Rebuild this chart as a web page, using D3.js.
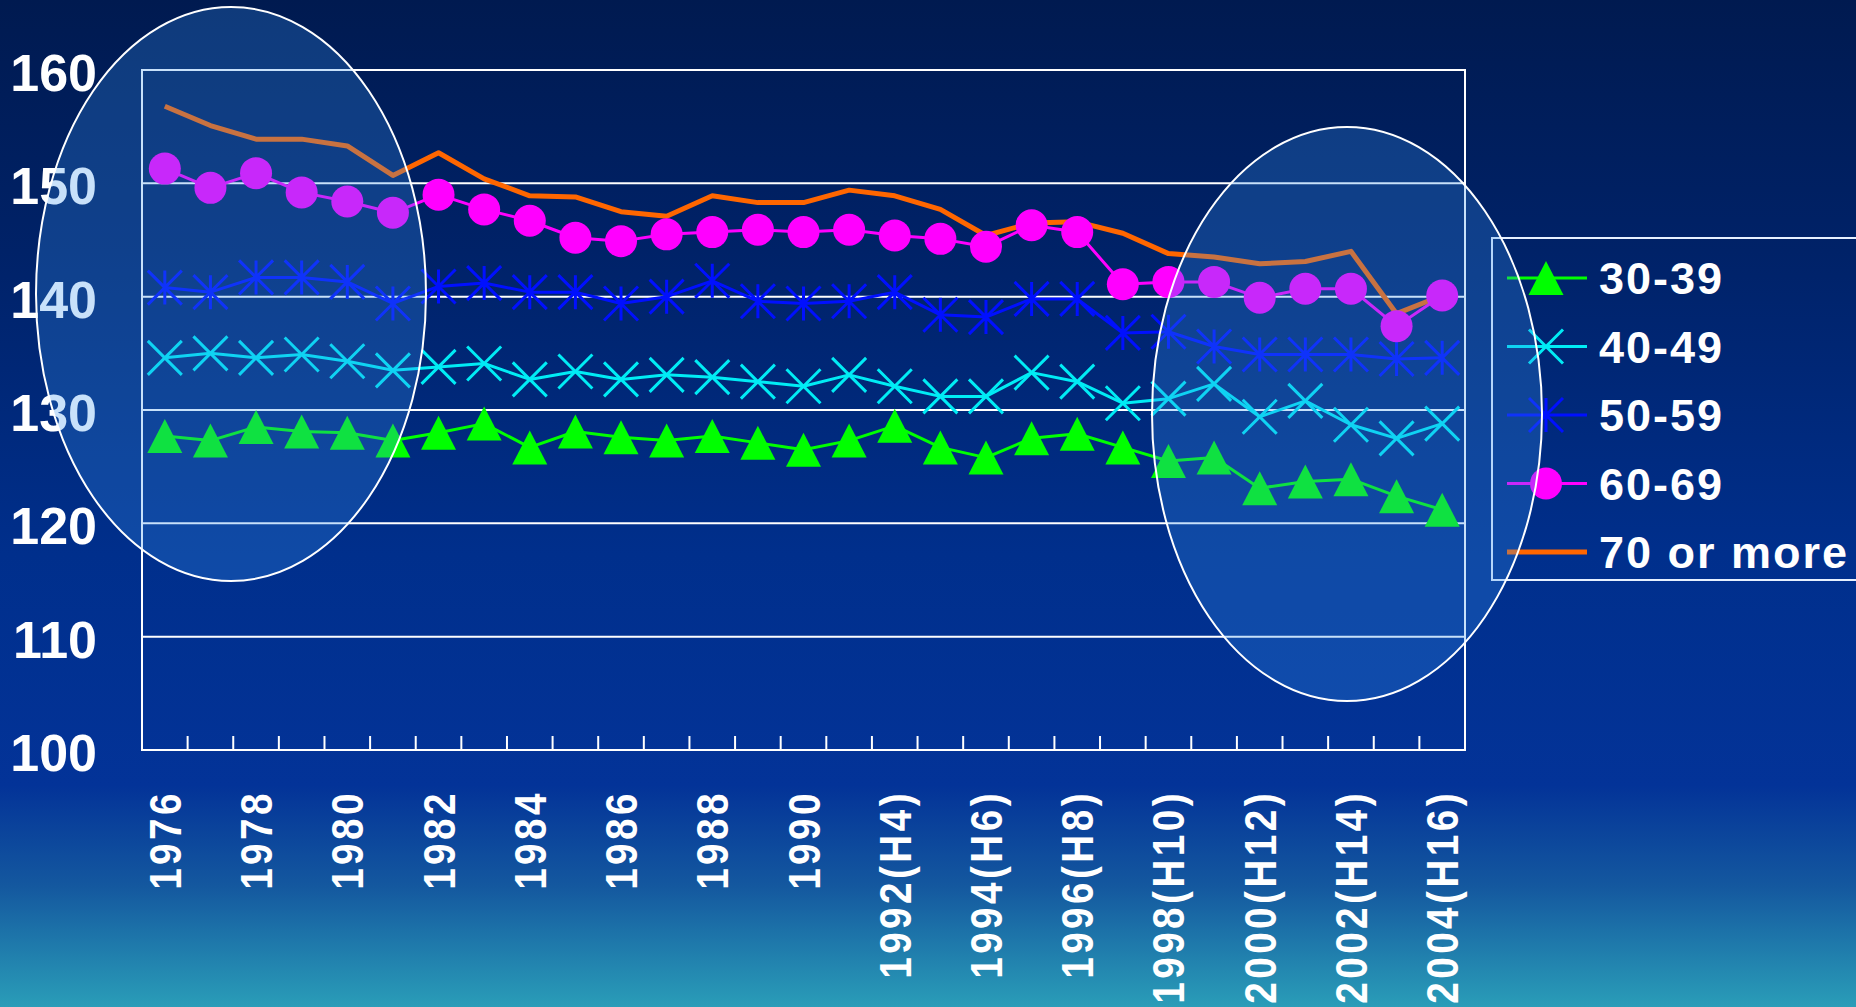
<!DOCTYPE html>
<html>
<head>
<meta charset="utf-8">
<script src="https://cdn.jsdelivr.net/npm/d3@7"></script>
<style>
  html, body { margin: 0; padding: 0; background: #001a50; }
  svg { display: block; }
  text { font-family: "Liberation Sans", Arial, sans-serif; font-weight: bold; fill: #ffffff; }
</style>
</head>
<body>
<svg id="chart" width="1856" height="1007"></svg>
<script>
// Survey years on the horizontal axis
const years = d3.range(1976, 2005);

// Years that carry a label, and the label text (Japanese era in brackets)
const labelYears = [1976, 1978, 1980, 1982, 1984, 1986, 1988, 1990, 1992, 1994, 1996, 1998, 2000, 2002, 2004];
const labelTexts = ["1976", "1978", "1980", "1982", "1984", "1986", "1988", "1990",
  "1992(H4)", "1994(H6)", "1996(H8)", "1998(H10)", "2000(H12)", "2002(H14)", "2004(H16)"];

// Vertical axis ticks
const yTicks = [100, 110, 120, 130, 140, 150, 160];

// Series values, one per year 1976-2004
const age30 = [127.7, 127.3, 128.5, 128.1, 128.0, 127.3, 128.0, 128.8, 126.7, 128.1,
  127.6, 127.3, 127.7, 127.1, 126.5, 127.3, 128.6, 126.7, 125.8, 127.5,
  127.9, 126.7, 125.5, 125.8, 123.1, 123.7, 123.9, 122.4, 121.2];
const age40 = [134.6, 135.0, 134.6, 134.9, 134.3, 133.5, 133.8, 134.1, 132.7, 133.4,
  132.7, 133.1, 132.9, 132.5, 132.1, 133.1, 132.1, 131.2, 131.2, 133.3,
  132.5, 130.6, 131.0, 132.3, 129.4, 130.8, 128.7, 127.5, 128.8];
const age50 = [140.8, 140.4, 141.7, 141.7, 141.3, 139.4, 140.9, 141.2, 140.4, 140.4,
  139.4, 140.0, 141.4, 139.6, 139.4, 139.6, 140.4, 138.4, 138.2, 139.8,
  139.8, 136.8, 136.9, 135.6, 134.9, 134.9, 134.9, 134.5, 134.6];
const age60 = [151.3, 149.6, 150.9, 149.2, 148.4, 147.4, 149.0, 147.7, 146.7, 145.2,
  144.9, 145.5, 145.7, 145.9, 145.7, 145.9, 145.4, 145.1, 144.4, 146.3,
  145.7, 141.1, 141.3, 141.3, 139.9, 140.7, 140.7, 137.4, 140.1];
const age70 = [156.8, 155.1, 153.9, 153.9, 153.3, 150.7, 152.7, 150.4, 148.9, 148.8,
  147.5, 147.1, 148.9, 148.3, 148.3, 149.4, 148.9, 147.7, 145.4, 146.5,
  146.6, 145.6, 143.8, 143.5, 142.9, 143.1, 144.0, 138.5, 140.1];

const seriesNames = ["30-39", "40-49", "50-59", "60-69", "70 or more"];

// Series styling: colour, line width, marker type
const series = [
  { name: seriesNames[4], values: age70, color: "#ff6600", width: 5, marker: "none" },
  { name: seriesNames[0], values: age30, color: "#00ff00", width: 3, marker: "triangle" },
  { name: seriesNames[1], values: age40, color: "#00ecf5", width: 3, marker: "cross" },
  { name: seriesNames[2], values: age50, color: "#0010ff", width: 3, marker: "star" },
  { name: seriesNames[3], values: age60, color: "#ff00ff", width: 3, marker: "circle" }
];
const legendOrder = [1, 2, 3, 4, 0];

const W = 1856, H = 1007;
const plot = { left: 142, right: 1465, top: 70, bottom: 750 };

const svg = d3.select("#chart");
const defs = svg.append("defs");

// Backdrop: deep navy to royal blue, fading into teal at the foot
const bg = defs.append("linearGradient").attr("id", "bg").attr("x1", 0).attr("y1", 0).attr("x2", 0).attr("y2", 1);
[["0", "#001a50"], ["0.25", "#002268"], ["0.55", "#002f8c"], ["0.78", "#033398"], ["0.88", "#14589f"], ["1", "#2a9db8"]]
  .forEach(([o, c]) => bg.append("stop").attr("offset", o).attr("stop-color", c));
svg.append("rect").attr("width", W).attr("height", H).attr("fill", "url(#bg)");

const x = d3.scaleBand().domain(years).range([plot.left, plot.right]).paddingInner(0).paddingOuter(0);
const y = d3.scaleLinear().domain([100, 160]).range([plot.bottom, plot.top]);
const cx = yr => x(yr) + x.bandwidth() / 2;

// Gridlines
svg.append("g").selectAll("line").data(yTicks.filter(v => v > 100 && v < 160)).join("line")
  .attr("x1", plot.left).attr("x2", plot.right)
  .attr("y1", d => y(d)).attr("y2", d => y(d))
  .attr("stroke", "#ffffff").attr("stroke-width", 2);

// Plot frame
svg.append("rect")
  .attr("x", plot.left).attr("y", plot.top)
  .attr("width", plot.right - plot.left).attr("height", plot.bottom - plot.top)
  .attr("fill", "none").attr("stroke", "#ffffff").attr("stroke-width", 2);

// Category ticks on the bottom axis, pointing into the plot
svg.append("g").selectAll("line").data(years.slice(1)).join("line")
  .attr("x1", d => x(d)).attr("x2", d => x(d))
  .attr("y1", plot.bottom).attr("y2", plot.bottom - 14)
  .attr("stroke", "#ffffff").attr("stroke-width", 2);

// Y tick labels
svg.append("g").selectAll("text").data(yTicks).join("text")
  .attr("x", 97).attr("y", d => y(d) + 21)
  .attr("text-anchor", "end")
  .attr("font-size", 52)
  .text(d => d);

// X tick labels, rotated to read upwards, slightly condensed and spaced
svg.append("g").selectAll("text").data(labelYears).join("text")
  .attr("transform", d => `translate(${cx(d) + 16},790) rotate(-90) scale(0.86,1)`)
  .attr("text-anchor", "end")
  .attr("font-size", 45)
  .attr("letter-spacing", 4)
  .text((d, i) => labelTexts[i]);

// Marker shapes
function drawMarker(sel, type, color) {
  if (type === "triangle") {
    sel.append("path").attr("d", "M0,-17L17.5,17L-17.5,17Z").attr("fill", color);
  } else if (type === "circle") {
    sel.append("circle").attr("r", 16).attr("fill", color);
  } else if (type === "cross") {
    sel.append("path").attr("d", "M-17,-17L17,17M17,-17L-17,17")
      .attr("stroke", color).attr("stroke-width", 3).attr("fill", "none");
  } else if (type === "star") {
    sel.append("path").attr("d", "M-17,-17L17,17M17,-17L-17,17M0,-17L0,17")
      .attr("stroke", color).attr("stroke-width", 3).attr("fill", "none");
  }
}

const line = d3.line().x((d, i) => cx(years[i])).y(d => y(d));

series.forEach(s => {
  const g = svg.append("g");
  g.append("path").datum(s.values)
    .attr("d", line)
    .attr("fill", "none")
    .attr("stroke", s.color)
    .attr("stroke-width", s.width)
    .attr("stroke-linejoin", "round");
  if (s.marker !== "none") {
    g.selectAll("g.m").data(s.values).join("g").attr("class", "m")
      .attr("transform", (d, i) => `translate(${cx(years[i])},${y(d)})`)
      .each(function () { drawMarker(d3.select(this), s.marker, s.color); });
  }
});

// Legend
const legend = svg.append("g");
legend.append("rect")
  .attr("x", 1492).attr("y", 238).attr("width", 400).attr("height", 342)
  .attr("fill", "none").attr("stroke", "#e6f0ff").attr("stroke-width", 2);
legendOrder.forEach((si, k) => {
  const s = series[si];
  const ry = 278 + k * 68.5;
  const row = legend.append("g");
  row.append("line").attr("x1", 1507).attr("x2", 1587).attr("y1", ry).attr("y2", ry)
    .attr("stroke", s.color).attr("stroke-width", s.width);
  if (s.marker !== "none") {
    drawMarker(row.append("g").attr("transform", `translate(1546,${ry})`), s.marker, s.color);
  }
  row.append("text").attr("x", 1599).attr("y", ry + 16)
    .attr("font-size", 45).attr("letter-spacing", 2)
    .text(s.name);
});

// Highlight ovals around the early and late years
const ovals = [
  { cx: 231, cy: 294, rx: 195, ry: 287 },
  { cx: 1347, cy: 414, rx: 195, ry: 287 }
];
svg.append("g").selectAll("ellipse").data(ovals).join("ellipse")
  .attr("cx", d => d.cx).attr("cy", d => d.cy)
  .attr("rx", d => d.rx).attr("ry", d => d.ry)
  .attr("fill", "rgba(55,145,236,0.275)")
  .attr("stroke", "#ffffff").attr("stroke-width", 2);
</script>
</body>
</html>
